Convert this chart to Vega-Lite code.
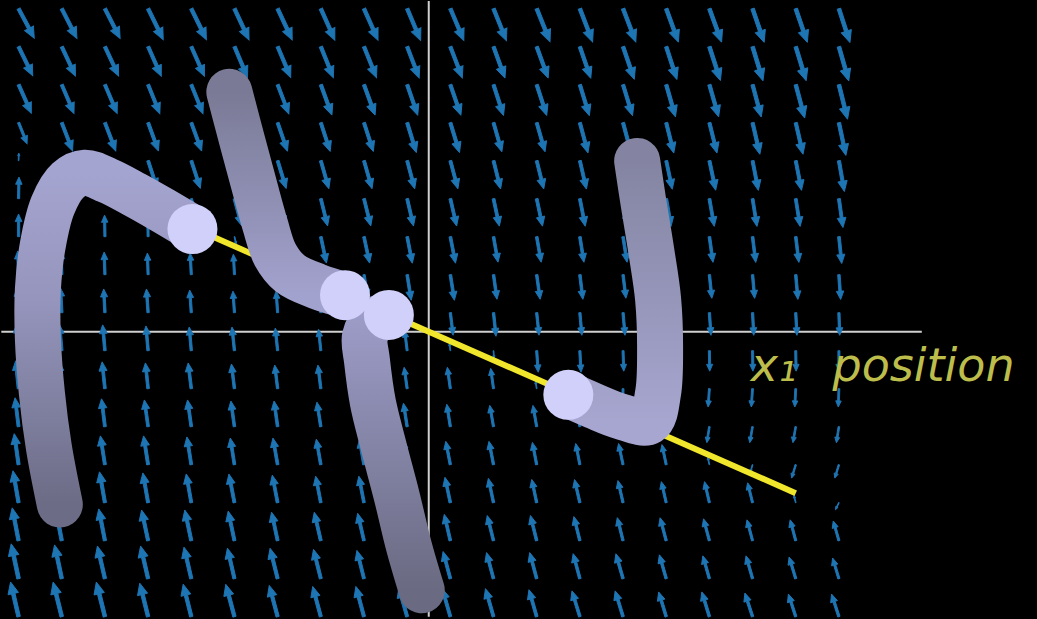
{
  "$schema": "https://vega.github.io/schema/vega-lite/v6.json",
  "description": "Vector field with trajectories converging on a line, x1 position axis",
  "width": 1037,
  "height": 619,
  "autosize": {"type": "fit", "contains": "padding"},
  "padding": 0,
  "background": "#000000",
  "config": {"view": {"stroke": null}},
  "datasets": {
    "axes": [
      {"u": -9.9, "v": 0, "u2": 11.42, "v2": 0},
      {"u": 0, "v": 8.7, "u2": 0, "v2": -7.5}
    ],
    "arrows": [
      {"u":-9.5,"v":8.5,"a":152,"l":31},{"u":-9.5,"v":7.5,"a":154,"l":30},{"u":-9.5,"v":6.5,"a":156,"l":29},{"u":-9.5,"v":5.5,"a":158,"l":21},{"u":-9.5,"v":4.5,"a":2,"l":7},{"u":-9.5,"v":3.5,"a":1,"l":20},{"u":-9.5,"v":2.5,"a":0,"l":21},{"u":-9.5,"v":1.5,"a":358,"l":22},{"u":-9.5,"v":0.5,"a":357,"l":23},{"u":-9.5,"v":-0.5,"a":356,"l":25},{"u":-9.5,"v":-1.5,"a":354,"l":26},{"u":-9.5,"v":-2.5,"a":353,"l":27},{"u":-9.5,"v":-3.5,"a":352,"l":29},{"u":-9.5,"v":-4.5,"a":350,"l":30},{"u":-9.5,"v":-5.5,"a":349,"l":31},{"u":-9.5,"v":-6.5,"a":348,"l":33},{"u":-9.5,"v":-7.5,"a":347,"l":33},
      {"u":-8.5,"v":8.5,"a":153,"l":31},{"u":-8.5,"v":7.5,"a":155,"l":30},{"u":-8.5,"v":6.5,"a":157,"l":29},{"u":-8.5,"v":5.5,"a":159,"l":28},{"u":-8.5,"v":4.5,"a":161,"l":7},{"u":-8.5,"v":3.5,"a":1,"l":19},{"u":-8.5,"v":2.5,"a":359,"l":20},{"u":-8.5,"v":1.5,"a":358,"l":22},{"u":-8.5,"v":0.5,"a":357,"l":23},{"u":-8.5,"v":-0.5,"a":355,"l":24},{"u":-8.5,"v":-1.5,"a":354,"l":25},{"u":-8.5,"v":-2.5,"a":353,"l":27},{"u":-8.5,"v":-3.5,"a":352,"l":28},{"u":-8.5,"v":-4.5,"a":350,"l":29},{"u":-8.5,"v":-5.5,"a":349,"l":31},{"u":-8.5,"v":-6.5,"a":348,"l":32},{"u":-8.5,"v":-7.5,"a":346,"l":33},
      {"u":-7.5,"v":8.5,"a":153,"l":31},{"u":-7.5,"v":7.5,"a":155,"l":30},{"u":-7.5,"v":6.5,"a":157,"l":29},{"u":-7.5,"v":5.5,"a":159,"l":28},{"u":-7.5,"v":4.5,"a":161,"l":21},{"u":-7.5,"v":3.5,"a":0,"l":7},{"u":-7.5,"v":2.5,"a":359,"l":20},{"u":-7.5,"v":1.5,"a":358,"l":21},{"u":-7.5,"v":0.5,"a":357,"l":22},{"u":-7.5,"v":-0.5,"a":355,"l":24},{"u":-7.5,"v":-1.5,"a":354,"l":25},{"u":-7.5,"v":-2.5,"a":353,"l":26},{"u":-7.5,"v":-3.5,"a":351,"l":27},{"u":-7.5,"v":-4.5,"a":350,"l":29},{"u":-7.5,"v":-5.5,"a":349,"l":30},{"u":-7.5,"v":-6.5,"a":347,"l":31},{"u":-7.5,"v":-7.5,"a":346,"l":33},
      {"u":-6.5,"v":8.5,"a":154,"l":32},{"u":-6.5,"v":7.5,"a":156,"l":30},{"u":-6.5,"v":6.5,"a":158,"l":29},{"u":-6.5,"v":5.5,"a":160,"l":28},{"u":-6.5,"v":4.5,"a":162,"l":27},{"u":-6.5,"v":3.5,"a":164,"l":7},{"u":-6.5,"v":2.5,"a":359,"l":19},{"u":-6.5,"v":1.5,"a":358,"l":20},{"u":-6.5,"v":0.5,"a":356,"l":22},{"u":-6.5,"v":-0.5,"a":355,"l":23},{"u":-6.5,"v":-1.5,"a":354,"l":24},{"u":-6.5,"v":-2.5,"a":352,"l":25},{"u":-6.5,"v":-3.5,"a":351,"l":27},{"u":-6.5,"v":-4.5,"a":350,"l":28},{"u":-6.5,"v":-5.5,"a":348,"l":29},{"u":-6.5,"v":-6.5,"a":347,"l":31},{"u":-6.5,"v":-7.5,"a":346,"l":32},
      {"u":-5.5,"v":8.5,"a":154,"l":32},{"u":-5.5,"v":7.5,"a":156,"l":30},{"u":-5.5,"v":6.5,"a":158,"l":29},{"u":-5.5,"v":5.5,"a":160,"l":28},{"u":-5.5,"v":4.5,"a":162,"l":27},{"u":-5.5,"v":3.5,"a":164,"l":21},{"u":-5.5,"v":2.5,"a":359,"l":7},{"u":-5.5,"v":1.5,"a":357,"l":20},{"u":-5.5,"v":0.5,"a":356,"l":21},{"u":-5.5,"v":-0.5,"a":355,"l":22},{"u":-5.5,"v":-1.5,"a":353,"l":24},{"u":-5.5,"v":-2.5,"a":352,"l":25},{"u":-5.5,"v":-3.5,"a":351,"l":26},{"u":-5.5,"v":-4.5,"a":350,"l":27},{"u":-5.5,"v":-5.5,"a":348,"l":29},{"u":-5.5,"v":-6.5,"a":347,"l":30},{"u":-5.5,"v":-7.5,"a":346,"l":31},
      {"u":-4.5,"v":8.5,"a":155,"l":32},{"u":-4.5,"v":7.5,"a":157,"l":31},{"u":-4.5,"v":6.5,"a":159,"l":29},{"u":-4.5,"v":5.5,"a":161,"l":28},{"u":-4.5,"v":4.5,"a":163,"l":27},{"u":-4.5,"v":3.5,"a":165,"l":26},{"u":-4.5,"v":2.5,"a":167,"l":7},{"u":-4.5,"v":1.5,"a":357,"l":19},{"u":-4.5,"v":0.5,"a":356,"l":20},{"u":-4.5,"v":-0.5,"a":354,"l":22},{"u":-4.5,"v":-1.5,"a":353,"l":23},{"u":-4.5,"v":-2.5,"a":352,"l":24},{"u":-4.5,"v":-3.5,"a":351,"l":25},{"u":-4.5,"v":-4.5,"a":349,"l":27},{"u":-4.5,"v":-5.5,"a":348,"l":28},{"u":-4.5,"v":-6.5,"a":347,"l":29},{"u":-4.5,"v":-7.5,"a":345,"l":31},
      {"u":-3.5,"v":8.5,"a":155,"l":32},{"u":-3.5,"v":7.5,"a":157,"l":31},{"u":-3.5,"v":6.5,"a":159,"l":29},{"u":-3.5,"v":5.5,"a":161,"l":28},{"u":-3.5,"v":4.5,"a":163,"l":27},{"u":-3.5,"v":3.5,"a":165,"l":26},{"u":-3.5,"v":2.5,"a":167,"l":21},{"u":-3.5,"v":1.5,"a":357,"l":7},{"u":-3.5,"v":0.5,"a":356,"l":20},{"u":-3.5,"v":-0.5,"a":354,"l":21},{"u":-3.5,"v":-1.5,"a":353,"l":22},{"u":-3.5,"v":-2.5,"a":352,"l":24},{"u":-3.5,"v":-3.5,"a":350,"l":25},{"u":-3.5,"v":-4.5,"a":349,"l":26},{"u":-3.5,"v":-5.5,"a":348,"l":27},{"u":-3.5,"v":-6.5,"a":346,"l":29},{"u":-3.5,"v":-7.5,"a":345,"l":30},
      {"u":-2.5,"v":8.5,"a":156,"l":32},{"u":-2.5,"v":7.5,"a":158,"l":31},{"u":-2.5,"v":6.5,"a":160,"l":30},{"u":-2.5,"v":5.5,"a":162,"l":28},{"u":-2.5,"v":4.5,"a":164,"l":27},{"u":-2.5,"v":3.5,"a":166,"l":26},{"u":-2.5,"v":2.5,"a":168,"l":25},{"u":-2.5,"v":1.5,"a":170,"l":7},{"u":-2.5,"v":0.5,"a":355,"l":19},{"u":-2.5,"v":-0.5,"a":354,"l":20},{"u":-2.5,"v":-1.5,"a":353,"l":22},{"u":-2.5,"v":-2.5,"a":351,"l":23},{"u":-2.5,"v":-3.5,"a":350,"l":24},{"u":-2.5,"v":-4.5,"a":349,"l":25},{"u":-2.5,"v":-5.5,"a":347,"l":27},{"u":-2.5,"v":-6.5,"a":346,"l":28},{"u":-2.5,"v":-7.5,"a":345,"l":29},
      {"u":-1.5,"v":8.5,"a":156,"l":32},{"u":-1.5,"v":7.5,"a":158,"l":31},{"u":-1.5,"v":6.5,"a":160,"l":30},{"u":-1.5,"v":5.5,"a":162,"l":28},{"u":-1.5,"v":4.5,"a":164,"l":27},{"u":-1.5,"v":3.5,"a":166,"l":26},{"u":-1.5,"v":2.5,"a":168,"l":25},{"u":-1.5,"v":1.5,"a":170,"l":21},{"u":-1.5,"v":0.5,"a":355,"l":7},{"u":-1.5,"v":-0.5,"a":354,"l":20},{"u":-1.5,"v":-1.5,"a":352,"l":21},{"u":-1.5,"v":-2.5,"a":351,"l":22},{"u":-1.5,"v":-3.5,"a":350,"l":24},{"u":-1.5,"v":-4.5,"a":349,"l":25},{"u":-1.5,"v":-5.5,"a":347,"l":26},{"u":-1.5,"v":-6.5,"a":346,"l":27},{"u":-1.5,"v":-7.5,"a":345,"l":29},
      {"u":-0.5,"v":8.5,"a":157,"l":32},{"u":-0.5,"v":7.5,"a":159,"l":31},{"u":-0.5,"v":6.5,"a":161,"l":30},{"u":-0.5,"v":5.5,"a":163,"l":29},{"u":-0.5,"v":4.5,"a":165,"l":27},{"u":-0.5,"v":3.5,"a":167,"l":26},{"u":-0.5,"v":2.5,"a":169,"l":25},{"u":-0.5,"v":1.5,"a":171,"l":24},{"u":-0.5,"v":0.5,"a":173,"l":7},{"u":-0.5,"v":-0.5,"a":353,"l":19},{"u":-0.5,"v":-1.5,"a":352,"l":20},{"u":-0.5,"v":-2.5,"a":351,"l":22},{"u":-0.5,"v":-3.5,"a":350,"l":23},{"u":-0.5,"v":-4.5,"a":348,"l":24},{"u":-0.5,"v":-5.5,"a":347,"l":25},{"u":-0.5,"v":-6.5,"a":346,"l":27},{"u":-0.5,"v":-7.5,"a":344,"l":28},
      {"u":0.5,"v":8.5,"a":157,"l":32},{"u":0.5,"v":7.5,"a":159,"l":31},{"u":0.5,"v":6.5,"a":161,"l":30},{"u":0.5,"v":5.5,"a":163,"l":29},{"u":0.5,"v":4.5,"a":165,"l":27},{"u":0.5,"v":3.5,"a":167,"l":26},{"u":0.5,"v":2.5,"a":169,"l":25},{"u":0.5,"v":1.5,"a":171,"l":24},{"u":0.5,"v":0.5,"a":173,"l":21},{"u":0.5,"v":-0.5,"a":353,"l":7},{"u":0.5,"v":-1.5,"a":352,"l":20},{"u":0.5,"v":-2.5,"a":351,"l":21},{"u":0.5,"v":-3.5,"a":349,"l":22},{"u":0.5,"v":-4.5,"a":348,"l":24},{"u":0.5,"v":-5.5,"a":347,"l":25},{"u":0.5,"v":-6.5,"a":345,"l":26},{"u":0.5,"v":-7.5,"a":344,"l":27},
      {"u":1.5,"v":8.5,"a":158,"l":32},{"u":1.5,"v":7.5,"a":160,"l":31},{"u":1.5,"v":6.5,"a":162,"l":30},{"u":1.5,"v":5.5,"a":164,"l":28},{"u":1.5,"v":4.5,"a":166,"l":27},{"u":1.5,"v":3.5,"a":168,"l":26},{"u":1.5,"v":2.5,"a":170,"l":24},{"u":1.5,"v":1.5,"a":172,"l":23},{"u":1.5,"v":0.5,"a":174,"l":22},{"u":1.5,"v":-0.5,"a":176,"l":7},{"u":1.5,"v":-1.5,"a":352,"l":19},{"u":1.5,"v":-2.5,"a":350,"l":20},{"u":1.5,"v":-3.5,"a":349,"l":22},{"u":1.5,"v":-4.5,"a":348,"l":23},{"u":1.5,"v":-5.5,"a":346,"l":24},{"u":1.5,"v":-6.5,"a":345,"l":25},{"u":1.5,"v":-7.5,"a":344,"l":27},
      {"u":2.5,"v":8.5,"a":158,"l":33},{"u":2.5,"v":7.5,"a":160,"l":31},{"u":2.5,"v":6.5,"a":162,"l":30},{"u":2.5,"v":5.5,"a":164,"l":28},{"u":2.5,"v":4.5,"a":166,"l":27},{"u":2.5,"v":3.5,"a":168,"l":26},{"u":2.5,"v":2.5,"a":170,"l":24},{"u":2.5,"v":1.5,"a":172,"l":23},{"u":2.5,"v":0.5,"a":174,"l":21},{"u":2.5,"v":-0.5,"a":176,"l":20},{"u":2.5,"v":-1.5,"a":351,"l":7},{"u":2.5,"v":-2.5,"a":350,"l":20},{"u":2.5,"v":-3.5,"a":349,"l":21},{"u":2.5,"v":-4.5,"a":348,"l":22},{"u":2.5,"v":-5.5,"a":346,"l":24},{"u":2.5,"v":-6.5,"a":345,"l":25},{"u":2.5,"v":-7.5,"a":344,"l":26},
      {"u":3.5,"v":8.5,"a":159,"l":33},{"u":3.5,"v":7.5,"a":161,"l":31},{"u":3.5,"v":6.5,"a":163,"l":30},{"u":3.5,"v":5.5,"a":165,"l":29},{"u":3.5,"v":4.5,"a":167,"l":27},{"u":3.5,"v":3.5,"a":169,"l":26},{"u":3.5,"v":2.5,"a":171,"l":24},{"u":3.5,"v":1.5,"a":173,"l":23},{"u":3.5,"v":0.5,"a":175,"l":21},{"u":3.5,"v":-0.5,"a":177,"l":20},{"u":3.5,"v":-1.5,"a":179,"l":7},{"u":3.5,"v":-2.5,"a":350,"l":19},{"u":3.5,"v":-3.5,"a":349,"l":20},{"u":3.5,"v":-4.5,"a":347,"l":22},{"u":3.5,"v":-5.5,"a":346,"l":23},{"u":3.5,"v":-6.5,"a":345,"l":24},{"u":3.5,"v":-7.5,"a":343,"l":25},
      {"u":4.5,"v":8.5,"a":159,"l":33},{"u":4.5,"v":7.5,"a":161,"l":32},{"u":4.5,"v":6.5,"a":163,"l":30},{"u":4.5,"v":5.5,"a":165,"l":29},{"u":4.5,"v":4.5,"a":167,"l":27},{"u":4.5,"v":3.5,"a":169,"l":26},{"u":4.5,"v":2.5,"a":171,"l":24},{"u":4.5,"v":1.5,"a":173,"l":22},{"u":4.5,"v":0.5,"a":175,"l":21},{"u":4.5,"v":-0.5,"a":178,"l":19},{"u":4.5,"v":-1.5,"a":181,"l":18},{"u":4.5,"v":-2.5,"a":350,"l":7},{"u":4.5,"v":-3.5,"a":348,"l":20},{"u":4.5,"v":-4.5,"a":347,"l":21},{"u":4.5,"v":-5.5,"a":346,"l":22},{"u":4.5,"v":-6.5,"a":344,"l":24},{"u":4.5,"v":-7.5,"a":343,"l":25},
      {"u":5.5,"v":8.5,"a":160,"l":33},{"u":5.5,"v":7.5,"a":162,"l":32},{"u":5.5,"v":6.5,"a":164,"l":31},{"u":5.5,"v":5.5,"a":166,"l":29},{"u":5.5,"v":4.5,"a":168,"l":27},{"u":5.5,"v":3.5,"a":170,"l":26},{"u":5.5,"v":2.5,"a":172,"l":24},{"u":5.5,"v":1.5,"a":174,"l":22},{"u":5.5,"v":0.5,"a":176,"l":21},{"u":5.5,"v":-0.5,"a":179,"l":19},{"u":5.5,"v":-1.5,"a":183,"l":17},{"u":5.5,"v":-2.5,"a":187,"l":7},{"u":5.5,"v":-3.5,"a":348,"l":19},{"u":5.5,"v":-4.5,"a":347,"l":20},{"u":5.5,"v":-5.5,"a":345,"l":22},{"u":5.5,"v":-6.5,"a":344,"l":23},{"u":5.5,"v":-7.5,"a":343,"l":24},
      {"u":6.5,"v":8.5,"a":160,"l":33},{"u":6.5,"v":7.5,"a":162,"l":33},{"u":6.5,"v":6.5,"a":164,"l":31},{"u":6.5,"v":5.5,"a":166,"l":29},{"u":6.5,"v":4.5,"a":168,"l":28},{"u":6.5,"v":3.5,"a":170,"l":26},{"u":6.5,"v":2.5,"a":172,"l":24},{"u":6.5,"v":1.5,"a":174,"l":22},{"u":6.5,"v":0.5,"a":176,"l":21},{"u":6.5,"v":-0.5,"a":179,"l":19},{"u":6.5,"v":-1.5,"a":184,"l":17},{"u":6.5,"v":-2.5,"a":189,"l":15},{"u":6.5,"v":-3.5,"a":348,"l":7},{"u":6.5,"v":-4.5,"a":347,"l":20},{"u":6.5,"v":-5.5,"a":345,"l":21},{"u":6.5,"v":-6.5,"a":344,"l":22},{"u":6.5,"v":-7.5,"a":343,"l":24},
      {"u":7.5,"v":8.5,"a":161,"l":33},{"u":7.5,"v":7.5,"a":163,"l":33},{"u":7.5,"v":6.5,"a":165,"l":31},{"u":7.5,"v":5.5,"a":167,"l":30},{"u":7.5,"v":4.5,"a":169,"l":28},{"u":7.5,"v":3.5,"a":171,"l":26},{"u":7.5,"v":2.5,"a":173,"l":24},{"u":7.5,"v":1.5,"a":175,"l":22},{"u":7.5,"v":0.5,"a":177,"l":21},{"u":7.5,"v":-0.5,"a":179,"l":19},{"u":7.5,"v":-1.5,"a":184,"l":17},{"u":7.5,"v":-2.5,"a":190,"l":15},{"u":7.5,"v":-3.5,"a":196,"l":7},{"u":7.5,"v":-4.5,"a":346,"l":19},{"u":7.5,"v":-5.5,"a":345,"l":20},{"u":7.5,"v":-6.5,"a":344,"l":22},{"u":7.5,"v":-7.5,"a":342,"l":23},
      {"u":8.5,"v":8.5,"a":161,"l":33},{"u":8.5,"v":7.5,"a":163,"l":33},{"u":8.5,"v":6.5,"a":165,"l":32},{"u":8.5,"v":5.5,"a":167,"l":30},{"u":8.5,"v":4.5,"a":169,"l":28},{"u":8.5,"v":3.5,"a":171,"l":26},{"u":8.5,"v":2.5,"a":173,"l":24},{"u":8.5,"v":1.5,"a":175,"l":23},{"u":8.5,"v":0.5,"a":177,"l":21},{"u":8.5,"v":-0.5,"a":179,"l":19},{"u":8.5,"v":-1.5,"a":183,"l":17},{"u":8.5,"v":-2.5,"a":190,"l":15},{"u":8.5,"v":-3.5,"a":197,"l":13},{"u":8.5,"v":-4.5,"a":346,"l":7},{"u":8.5,"v":-5.5,"a":345,"l":20},{"u":8.5,"v":-6.5,"a":343,"l":21},{"u":8.5,"v":-7.5,"a":342,"l":22},
      {"u":9.5,"v":8.5,"a":162,"l":33},{"u":9.5,"v":7.5,"a":164,"l":33},{"u":9.5,"v":6.5,"a":166,"l":33},{"u":9.5,"v":5.5,"a":168,"l":31},{"u":9.5,"v":4.5,"a":170,"l":29},{"u":9.5,"v":3.5,"a":172,"l":27},{"u":9.5,"v":2.5,"a":174,"l":25},{"u":9.5,"v":1.5,"a":176,"l":23},{"u":9.5,"v":0.5,"a":178,"l":21},{"u":9.5,"v":-0.5,"a":180,"l":19},{"u":9.5,"v":-1.5,"a":182,"l":17},{"u":9.5,"v":-2.5,"a":189,"l":15},{"u":9.5,"v":-3.5,"a":197,"l":13},{"u":9.5,"v":-4.5,"a":206,"l":7},{"u":9.5,"v":-5.5,"a":344,"l":19},{"u":9.5,"v":-6.5,"a":343,"l":20},{"u":9.5,"v":-7.5,"a":342,"l":22}
    ],
    "yl": [
      {"i": 0, "u": -5.47, "v": 2.735},
      {"i": 1, "u": 8.5, "v": -4.25}
    ],
    "t1": [
      {"i":0,"u":-8.545,"v":-4.545},{"i":1,"u":-8.799,"v":-3.039},{"i":2,"u":-8.961,"v":-1.61},{"i":3,"u":-9.053,"v":-0.182},{"i":4,"u":-9.053,"v":1.117},{"i":5,"u":-8.938,"v":2.286},{"i":6,"u":-8.707,"v":3.325},{"i":7,"u":-8.36,"v":3.974},{"i":8,"u":-7.968,"v":4.182},{"i":9,"u":-7.436,"v":3.974},{"i":10,"u":-6.813,"v":3.61},{"i":11,"u":-6.166,"v":3.195},{"i":12,"u":-5.473,"v":2.727}
    ],
    "t2": [
      {"i":0,"u":-4.619,"v":6.312},{"i":1,"u":-4.319,"v":5.013},{"i":2,"u":-4.042,"v":3.844},{"i":3,"u":-3.788,"v":2.805},{"i":4,"u":-3.557,"v":2.026},{"i":5,"u":-3.21,"v":1.532},{"i":6,"u":-2.587,"v":1.195},{"i":7,"u":-1.94,"v":0.961}
    ],
    "t3": [
      {"i":0,"u":-0.162,"v":-6.805},{"i":1,"u":-0.462,"v":-5.636},{"i":2,"u":-0.739,"v":-4.338},{"i":3,"u":-1.039,"v":-3.039},{"i":4,"u":-1.293,"v":-1.87},{"i":5,"u":-1.432,"v":-0.753},{"i":6,"u":-1.478,"v":-0.13},{"i":7,"u":-1.27,"v":0.286},{"i":8,"u":-0.924,"v":0.442}
    ],
    "t4": [
      {"i":0,"u":4.827,"v":4.494},{"i":1,"u":4.965,"v":3.455},{"i":2,"u":5.15,"v":2.156},{"i":3,"u":5.312,"v":0.857},{"i":4,"u":5.358,"v":-0.442},{"i":5,"u":5.312,"v":-1.61},{"i":6,"u":5.104,"v":-2.364},{"i":7,"u":4.457,"v":-2.234},{"i":8,"u":3.811,"v":-1.948},{"i":9,"u":3.233,"v":-1.662}
    ],
    "circles": [
      {"u": -5.473, "v": 2.701},
      {"u": -1.94, "v": 0.961},
      {"u": -0.924, "v": 0.442},
      {"u": 3.233, "v": -1.662}
    ],
    "labels": [
      {"u": 7.46, "v": -1.3, "t": "x₁"},
      {"u": 9.35, "v": -1.3, "t": "position"}
    ]
  },
  "encoding": {
    "x": {"field": "u", "type": "quantitative", "scale": {"domain": [-9.861, 14.088], "nice": false, "zero": false}, "axis": null},
    "y": {"field": "v", "type": "quantitative", "scale": {"domain": [-7.429, 8.649], "nice": false, "zero": false}, "axis": null}
  },
  "layer": [
    {
      "data": {"name": "axes"},
      "mark": {"type": "rule", "color": "#cfcfcf", "strokeWidth": 2},
      "encoding": {"x2": {"field": "u2"}, "y2": {"field": "v2"}}
    },
    {
      "data": {"name": "arrows"},
      "mark": {
        "type": "point",
        "shape": "M-0.1,0L-0.1,-1.33L-0.3,-1.33L0,-2L0.3,-1.33L0.1,-1.33L0.1,0Z",
        "filled": true,
        "color": "#1e75b3",
        "stroke": "#1e75b3",
        "strokeWidth": 0.9,
        "opacity": 1
      },
      "encoding": {
        "angle": {"field": "a", "type": "quantitative", "scale": {"domain": [0, 360], "range": [0, 360]}},
        "size": {"field": "l", "type": "quantitative", "scale": {"type": "pow", "exponent": 2, "domain": [0, 40], "range": [0, 1866]}, "legend": null}
      }
    },
    {
      "data": {"name": "yl"},
      "mark": {"type": "line", "color": "#f0e62c", "strokeWidth": 6},
      "encoding": {"order": {"field": "i"}}
    },
    {
      "data": {"name": "t1"},
      "mark": {
        "type": "line", "interpolate": "catmull-rom", "strokeWidth": 46, "strokeCap": "round", "strokeJoin": "round",
        "stroke": {"gradient": "linear", "x1": 0, "y1": 1, "x2": 0, "y2": 0,
          "stops": [{"offset": 0, "color": "#6c6c86"}, {"offset": 0.6, "color": "#9494bc"}, {"offset": 1, "color": "#a4a4d0"}]}
      },
      "encoding": {"order": {"field": "i"}}
    },
    {
      "data": {"name": "t2"},
      "mark": {
        "type": "line", "interpolate": "catmull-rom", "strokeWidth": 46, "strokeCap": "round", "strokeJoin": "round",
        "stroke": {"gradient": "linear", "x1": 0, "y1": 0, "x2": 0, "y2": 1,
          "stops": [{"offset": 0, "color": "#7a7a96"}, {"offset": 1, "color": "#a2a2ce"}]}
      },
      "encoding": {"order": {"field": "i"}}
    },
    {
      "data": {"name": "t3"},
      "mark": {
        "type": "line", "interpolate": "catmull-rom", "strokeWidth": 46, "strokeCap": "round", "strokeJoin": "round",
        "stroke": {"gradient": "linear", "x1": 0, "y1": 1, "x2": 0, "y2": 0,
          "stops": [{"offset": 0, "color": "#6a6a82"}, {"offset": 1, "color": "#9c9cc8"}]}
      },
      "encoding": {"order": {"field": "i"}}
    },
    {
      "data": {"name": "t4"},
      "mark": {
        "type": "line", "interpolate": "catmull-rom", "strokeWidth": 46, "strokeCap": "round", "strokeJoin": "round",
        "stroke": {"gradient": "linear", "x1": 0, "y1": 0, "x2": 0, "y2": 1,
          "stops": [{"offset": 0, "color": "#8484a2"}, {"offset": 1, "color": "#a6a6d0"}]}
      },
      "encoding": {"order": {"field": "i"}}
    },
    {
      "data": {"name": "circles"},
      "mark": {"type": "point", "shape": "circle", "filled": true, "color": "#d0d0fa", "size": 2500, "opacity": 1}
    },
    {
      "data": {"name": "labels"},
      "mark": {"type": "text", "align": "left", "baseline": "alphabetic", "font": "DejaVu Sans", "fontStyle": "italic", "fontSize": 46, "color": "#bdbd4c"},
      "encoding": {"text": {"field": "t"}}
    }
  ]
}
